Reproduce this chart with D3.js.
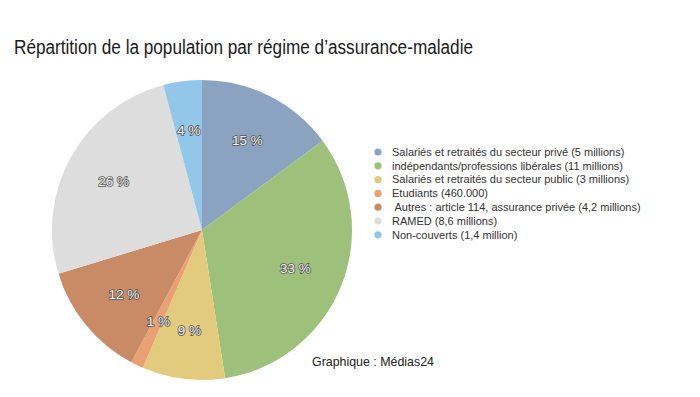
<!DOCTYPE html>
<html>
<head>
<meta charset="utf-8">
<script src="https://cdn.jsdelivr.net/npm/d3@7"></script>
<style>
  body { margin: 0; background: #fff; }
  text { font-family: "Liberation Sans", Arial, sans-serif; }
</style>
</head>
<body>
<script>
// données (millions de personnes)
var categories = [
  'Salariés et retraités du secteur privé (5 millions)',
  'indépendants/professions libérales (11 millions)',
  'Salariés et retraités du secteur public (3 millions)',
  'Etudiants (460.000)',
  ' Autres : article 114, assurance privée (4,2 millions)',
  'RAMED (8,6 millions)',
  'Non-couverts (1,4 million)'
];
var values = [5, 11, 3, 0.46, 4.2, 8.6, 1.4];
var colors = ['#8ba3c1', '#9dc07b', '#e3cb7e', '#e9a173', '#c98b65', '#dddddd', '#92c7ea'];

var width = 700;
var height = 397;
var cx = 202, cy = 230, radius = 150;

var svg = d3.select('body')
  .append('svg')
  .attr('width', width)
  .attr('height', height);

// titre un peu resserré comme l'original
svg.append('text')
  .attr('x', 14)
  .attr('y', 54)
  .attr('font-size', 20)
  .attr('fill', '#1a1a1a')
  .attr('textLength', 459)
  .attr('lengthAdjust', 'spacingAndGlyphs')
  .text('Répartition de la population par régime d’assurance-maladie');

var pie = d3.pie().sort(null).value(function (d) { return d; });
var arcs = pie(values);
var total = d3.sum(values);

var arc = d3.arc().innerRadius(0).outerRadius(radius);
var labelArc = d3.arc().innerRadius(101).outerRadius(101);

var g = svg.append('g')
  .attr('transform', 'translate(' + cx + ',' + cy + ')');

g.selectAll('path')
  .data(arcs)
  .enter()
  .append('path')
  .attr('d', arc)
  .attr('fill', function (d, i) { return colors[i]; });

g.selectAll('text.lbl')
  .data(arcs)
  .enter()
  .append('text')
  .attr('class', 'lbl')
  .attr('transform', function (d) { return 'translate(' + labelArc.centroid(d) + ')'; })
  .attr('text-anchor', 'middle')
  .attr('dy', '0.35em')
  .attr('font-size', 13.5)
  .attr('fill', '#f4f4f4')
  .attr('stroke', '#555')
  .attr('stroke-width', 1.6)
  .attr('paint-order', 'stroke')
  .text(function (d) { return Math.round(d.data / total * 100) + ' %'; });

// légende
var legend = svg.append('g')
  .attr('transform', 'translate(378,152)');

var rows = legend.selectAll('g')
  .data(categories)
  .enter()
  .append('g')
  .attr('transform', function (d, i) { return 'translate(0,' + (i * 13.8) + ')'; });

rows.append('circle')
  .attr('r', 3.6)
  .attr('fill', function (d, i) { return colors[i]; });

rows.append('text')
  .attr('x', 14)
  .attr('dy', '0.35em')
  .attr('font-size', 11)
  .attr('fill', '#333')
  .style('white-space', 'pre')
  .text(function (d) { return d; });

svg.append('text')
  .attr('x', 312)
  .attr('y', 366)
  .attr('font-size', 12.4)
  .attr('fill', '#222')
  .text('Graphique : Médias24');
</script>
</body>
</html>
